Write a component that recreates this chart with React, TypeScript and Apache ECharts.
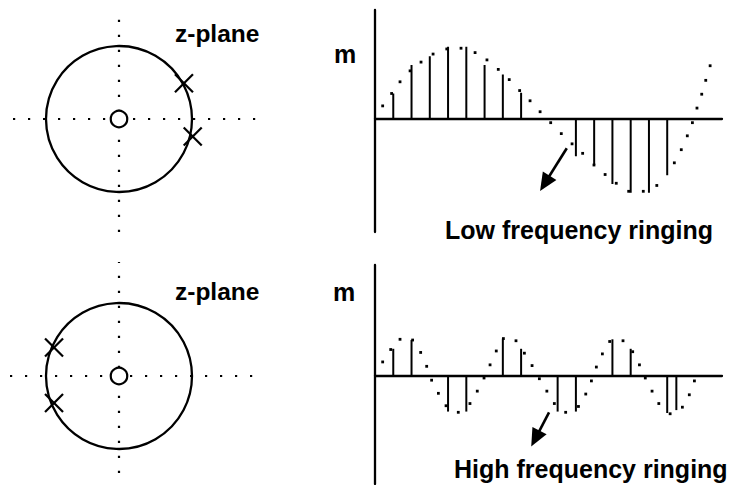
import React, { useEffect, useRef } from "react";
import * as echarts from "echarts";

const W = 731;
const H = 485;
const UNIT = 73; // px per unit (unit-circle radius / stem amplitude)

// ---------- z-plane data ----------
const unitCircleRadius = [1];
const lowPolesRe = [0.89, 1.01];
const lowPolesIm = [0.49, -0.24];
const highPolesRe = [-0.89, -0.89];
const highPolesIm = [0.39, -0.37];
const zerosRe = [0];
const zerosIm = [0];

// ---------- low frequency ringing ----------
const lowStemN = [1, 2, 3, 4, 5, 6, 7, 8, 11, 12, 13, 14, 15, 16];
const lowStemM = [0.34, 0.73, 0.85, 0.98, 0.98, 0.73, 0.6, 0.35, -0.52, -0.64, -0.9, -1.02, -1.02, -0.78];
const lowCurveT = [0.42, 0.91, 1.37, 1.92, 2.52, 3.18, 3.93, 4.71, 5.48, 6.13, 6.75, 7.35, 7.92, 8.49, 9.04, 9.62, 10.2, 10.79, 11.37, 11.99, 12.6, 13.21, 13.89, 14.69, 15.43, 16.39, 16.77, 17.1, 17.38, 17.63, 17.89, 18.11, 18.35];
const lowCurveM = [0.17, 0.34, 0.5, 0.65, 0.77, 0.88, 0.95, 0.96, 0.9, 0.8, 0.67, 0.53, 0.38, 0.24, 0.09, -0.06, -0.21, -0.35, -0.48, -0.64, -0.77, -0.89, -1.0, -1.0, -0.92, -0.61, -0.43, -0.24, -0.06, 0.14, 0.33, 0.52, 0.72];
const lowArrowFrom = [10.5, -0.41];
const lowArrowTo = [9.3, -0.89];

// ---------- high frequency ringing ----------
const highStemN = [1, 2, 4, 5, 7, 8, 10, 11, 13, 14, 16, 16.5];
const highStemM = [0.37, 0.49, -0.49, -0.49, 0.51, 0.37, -0.49, -0.49, 0.5, 0.37, -0.51, -0.47];
const highCurveT = [0.42, 0.86, 1.37, 2.06, 2.5, 2.83, 3.1, 3.47, 3.89, 4.56, 5.2, 5.6, 5.97, 6.3, 6.64, 7.03, 7.72, 8.18, 8.6, 9.0, 9.41, 9.82, 10.44, 11.14, 11.54, 11.85, 12.12, 12.45, 12.85, 13.58, 14.11, 14.48, 14.8, 15.17, 15.54, 16.16, 16.83, 17.21, 17.49];
const highCurveM = [0.19, 0.36, 0.5, 0.49, 0.32, 0.13, -0.06, -0.24, -0.41, -0.5, -0.38, -0.21, -0.03, 0.15, 0.34, 0.51, 0.48, 0.31, 0.14, -0.04, -0.21, -0.38, -0.5, -0.42, -0.25, -0.07, 0.12, 0.3, 0.47, 0.48, 0.33, 0.15, -0.03, -0.21, -0.38, -0.52, -0.43, -0.26, -0.07];
const highArrowFrom = [9.53, -0.5];
const highArrowTo = [8.78, -0.86];

const timeMax = 19;

// ---------- texts ----------
const planeLabel = "z-plane";
const yLabel = "m";
const lowTitle = "Low frequency ringing";
const highTitle = "High frequency ringing";

// ---------- layout (pixels) ----------
const zTop = { left: 13, top: 11, right: 265, bottom: 232, cx: 119, cy: 119 };
const zBot = { left: 10, top: 262, right: 262, bottom: 473, cx: 119, cy: 376 };
const sTop = { left: 375, top: 10, right: 722, bottom: 232, y0: 118.3 };
const sBot = { left: 375, top: 265, right: 722, bottom: 484, y0: 375.8 };

const FONT = '"Liberation Sans", Arial, sans-serif';

const zip = (a: number[], b: number[]) => a.map((v, i) => [v, b[i]]);

function gridOf(g: any) {
  return { left: g.left, top: g.top, width: g.right - g.left, height: g.bottom - g.top };
}

const dottedAxisLine = {
  show: true,
  onZero: true,
  lineStyle: { color: "#000", width: 2.2, type: [2.2, 12.8], cap: "butt" },
};
const solidAxisLine = {
  show: true,
  onZero: true,
  lineStyle: { color: "#000", width: 2.3, type: "solid" },
};
const hidden = {
  axisTick: { show: false },
  axisLabel: { show: false },
  splitLine: { show: false },
};

function zAxes(g: any, gi: number) {
  return {
    x: {
      gridIndex: gi,
      type: "value",
      min: -(g.cx - g.left) / UNIT,
      max: (g.right - g.cx) / UNIT,
      axisLine: dottedAxisLine,
      ...hidden,
    },
    y: {
      gridIndex: gi,
      type: "value",
      min: -(g.bottom - g.cy) / UNIT,
      max: (g.cy - g.top) / UNIT,
      axisLine: dottedAxisLine,
      ...hidden,
    },
  };
}
function sAxes(g: any, gi: number) {
  return {
    x: { gridIndex: gi, type: "value", min: 0, max: timeMax, axisLine: solidAxisLine, ...hidden },
    y: {
      gridIndex: gi,
      type: "value",
      min: -(g.bottom - g.y0) / UNIT,
      max: (g.y0 - g.top) / UNIT,
      axisLine: solidAxisLine,
      ...hidden,
    },
  };
}

function circleSeries(ai: number) {
  return {
    type: "custom",
    xAxisIndex: ai,
    yAxisIndex: ai,
    silent: true,
    z: 3,
    data: unitCircleRadius.map((r) => [0, 0, r]),
    renderItem: (_p: any, api: any) => {
      const c = api.coord([api.value(0), api.value(1)]);
      const r = api.size([api.value(2), 0])[0];
      return {
        type: "circle",
        shape: { cx: c[0], cy: c[1], r },
        style: { fill: "none", stroke: "#000", lineWidth: 2.3 },
      };
    },
  };
}
function polesSeries(ai: number, re: number[], im: number[]) {
  return {
    type: "custom",
    xAxisIndex: ai,
    yAxisIndex: ai,
    silent: true,
    z: 4,
    data: zip(re, im),
    renderItem: (_p: any, api: any) => {
      const c = api.coord([api.value(0), api.value(1)]);
      const s = 9;
      const st = { stroke: "#000", lineWidth: 2.2 };
      return {
        type: "group",
        children: [
          { type: "line", shape: { x1: c[0] - s, y1: c[1] - s, x2: c[0] + s, y2: c[1] + s }, style: st },
          { type: "line", shape: { x1: c[0] - s, y1: c[1] + s, x2: c[0] + s, y2: c[1] - s }, style: st },
        ],
      };
    },
  };
}
function zerosSeries(ai: number) {
  return {
    type: "scatter",
    xAxisIndex: ai,
    yAxisIndex: ai,
    silent: true,
    z: 5,
    symbol: "circle",
    symbolSize: 16.5,
    itemStyle: { color: "#fff", borderColor: "#000", borderWidth: 2.2, opacity: 1 },
    data: zip(zerosRe, zerosIm),
  };
}
function stemSeries(ai: number, n: number[], m: number[]) {
  return {
    type: "custom",
    xAxisIndex: ai,
    yAxisIndex: ai,
    silent: true,
    z: 3,
    data: zip(n, m),
    renderItem: (_p: any, api: any) => {
      const p0 = api.coord([api.value(0), 0]);
      const p1 = api.coord([api.value(0), api.value(1)]);
      return {
        type: "line",
        shape: { x1: p0[0], y1: p0[1], x2: p1[0], y2: p1[1] },
        style: { stroke: "#000", lineWidth: 2 },
      };
    },
  };
}
function curveSeries(ai: number, t: number[], m: number[], from: number[], to: number[]) {
  return {
    type: "scatter",
    xAxisIndex: ai,
    yAxisIndex: ai,
    silent: true,
    z: 4,
    symbol: "rect",
    symbolSize: 2.8,
    itemStyle: { color: "#000", opacity: 1 },
    data: zip(t, m),
    markLine: {
      silent: true,
      animation: false,
      symbol: ["none", "triangle"],
      symbolSize: [16, 18],
      lineStyle: { color: "#000", width: 2.6, type: "solid", opacity: 1 },
      label: { show: false },
      emphasis: { disabled: true },
      data: [[{ coord: from }, { coord: to }]],
    },
  };
}

function txt(text: string, x: number, baseline: number, size = 25) {
  return {
    type: "text",
    silent: true,
    x,
    y: baseline - 0.3465 * size,
    style: {
      text,
      fill: "#000",
      font: `bold ${size}px ${FONT}`,
      align: "left",
      verticalAlign: "middle",
    },
  };
}

export default function App() {
  const ref = useRef<HTMLDivElement>(null);
  useEffect(() => {
    if (!ref.current) return;
    const chart = echarts.init(ref.current, undefined, { renderer: "svg", width: W, height: H });
    const a0 = zAxes(zTop, 0);
    const a1 = sAxes(sTop, 1);
    const a2 = zAxes(zBot, 2);
    const a3 = sAxes(sBot, 3);
    chart.setOption({
      animation: false,
      backgroundColor: "#fff",
      grid: [gridOf(zTop), gridOf(sTop), gridOf(zBot), gridOf(sBot)],
      xAxis: [a0.x, a1.x, a2.x, a3.x],
      yAxis: [a0.y, a1.y, a2.y, a3.y],
      series: [
        circleSeries(0),
        polesSeries(0, lowPolesRe, lowPolesIm),
        zerosSeries(0),
        stemSeries(1, lowStemN, lowStemM),
        curveSeries(1, lowCurveT, lowCurveM, lowArrowFrom, lowArrowTo),
        circleSeries(2),
        polesSeries(2, highPolesRe, highPolesIm),
        zerosSeries(2),
        stemSeries(3, highStemN, highStemM),
        curveSeries(3, highCurveT, highCurveM, highArrowFrom, highArrowTo),
      ],
      graphic: [
        txt(planeLabel, 175, 41.5, 24.5),
        txt(planeLabel, 175, 300, 24.5),
        txt(yLabel, 334, 62.7),
        txt(yLabel, 333, 300.7),
        txt(lowTitle, 445, 238.3),
        txt(highTitle, 454, 478),
      ],
    });
    return () => chart.dispose();
  }, []);
  return (
    <div
      ref={ref}
      style={{ position: "fixed", left: 0, top: 0, width: W, height: H, background: "#fff" }}
    />
  );
}
